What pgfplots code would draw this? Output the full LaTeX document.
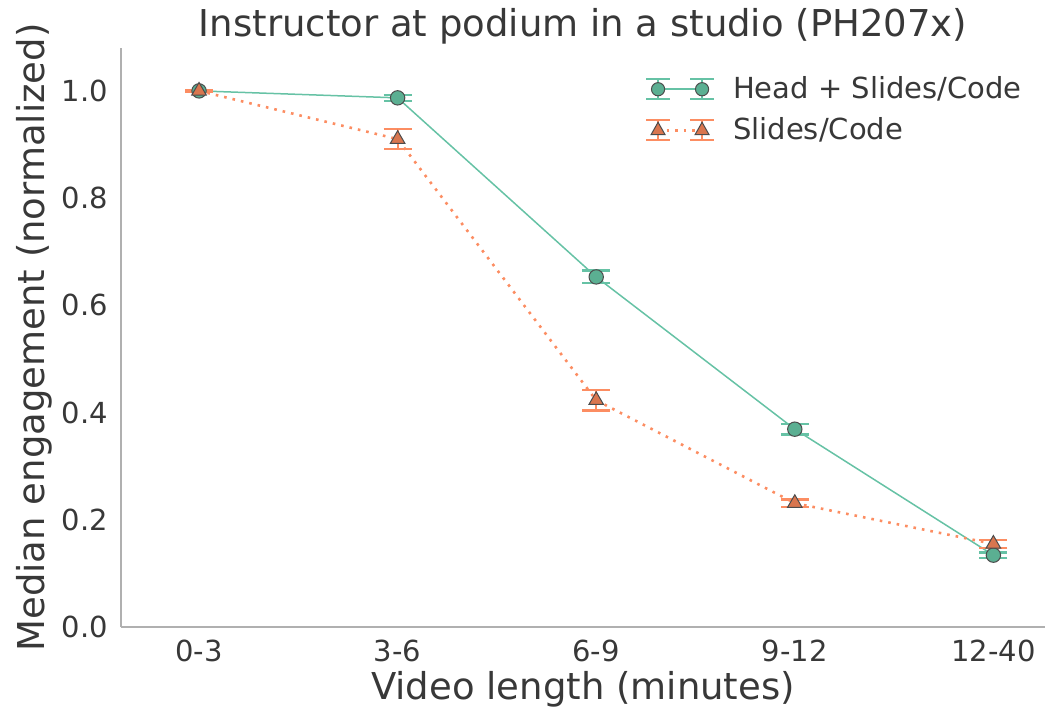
\documentclass[border=0pt]{standalone}
\usepackage{fontspec}
\setmainfont{DejaVu Sans}
\usepackage{pgfplots}
\pgfplotsset{compat=1.18}
\definecolor{tgreen}{HTML}{66C2A5}
\definecolor{tgreenfill}{HTML}{5BAF92}
\definecolor{torange}{HTML}{FC8D62}
\definecolor{torangefill}{HTML}{D9764F}
\definecolor{txt}{HTML}{383838}
\definecolor{spine}{HTML}{B0B0B0}
\begin{document}
\begin{tikzpicture}
\begin{axis}[
  scale only axis,
  width=462pt, height=289.5pt,
  xmin=-0.393, xmax=4.26,
  ymin=0, ymax=1.08,
  axis x line*=bottom, axis y line*=left,
  axis line style={spine, line width=1.1pt, -},
  xtick={0,1,2,3,4},
  xticklabels={0-3,3-6,6-9,9-12,12-40},
  ytick={0,0.2,0.4,0.6,0.8,1.0},
  yticklabel style={/pgf/number format/fixed, /pgf/number format/fixed zerofill, /pgf/number format/precision=1},
  /pgf/number format/assume math mode=true,
  major tick length=0pt,
  tick label style={font=\fontsize{14.5}{17}\selectfont, text=txt},
  xticklabel style={yshift=-3pt},
  yticklabel style={xshift=-3pt},
  title={Instructor at podium in a studio (PH207x)},
  title style={font=\fontsize{18.5}{22}\selectfont, text=txt, yshift=-7.5pt},
  xlabel={Video length (minutes)},
  ylabel={Median engagement (normalized)},
  label style={font=\fontsize{18.5}{22}\selectfont, text=txt},
  xlabel style={yshift=2pt},
  ylabel style={yshift=-2pt},
  clip=false,
]
\addplot[tgreen, line width=0.75pt,
  mark=*, mark size=3.6pt, mark options={fill=tgreenfill, draw=black!70, line width=0.5pt, solid},
  error bars/.cd, y dir=both, y explicit,
  error bar style={tgreen, line width=1.1pt},
  error mark options={rotate=90, mark size=7pt, line width=1.1pt, tgreen},
  ]
  coordinates {
  (0,1.000) +- (0,0.002)
  (1,0.987) +- (0,0.006)
  (2,0.653) +- (0,0.012)
  (3,0.369) +- (0,0.010)
  (4,0.134) +- (0,0.005)
  };
\addplot[torange, line width=1.3pt, dash pattern=on 1.3pt off 3pt,
  mark=triangle*, mark size=4.2pt, mark options={fill=torangefill, draw=black!70, line width=0.5pt, solid},
  error bars/.cd, y dir=both, y explicit,
  error bar style={torange, line width=1.1pt, solid},
  error mark options={rotate=90, mark size=7pt, line width=1.1pt, torange, solid},
  ]
  coordinates {
  (0,1.000) +- (0,0.002)
  (1,0.910) +- (0,0.019)
  (2,0.423) +- (0,0.019)
  (3,0.231) +- (0,0.007)
  (4,0.155) +- (0,0.007)
  };
\end{axis}
\begin{axis}[
  scale only axis,
  width=462pt, height=289.5pt,
  xmin=0, xmax=1, ymin=0, ymax=1,
  hide axis,
  legend style={draw=none, fill=none, at={(0.5666,0.958)}, anchor=north west,
    font=\fontsize{14.5}{17}\selectfont, text=txt, row sep=4pt, column sep=7pt,
    inner sep=0pt},
  legend cell align=left,
]
\addlegendimage{legend image code/.code={
  \draw[tgreen, line width=0.75pt] (0pt,0pt) -- (22pt,0pt);
  \foreach \x in {0pt,22pt}{
    \draw[tgreen, line width=1.1pt] (\x,-5pt) -- (\x,5pt);
    \draw[tgreen, line width=1.1pt] ([xshift=-6pt]\x,-5pt) -- ([xshift=6pt]\x,-5pt);
    \draw[tgreen, line width=1.1pt] ([xshift=-6pt]\x,5pt) -- ([xshift=6pt]\x,5pt);
    \draw[fill=tgreenfill, draw=black!70, line width=0.5pt] (\x,0pt) circle (3.3pt);
  }
}}
\addlegendentry{Head + Slides/Code}
\addlegendimage{legend image code/.code={
  \draw[torange, line width=1.3pt, dash pattern=on 1.3pt off 3pt] (0pt,0pt) -- (22pt,0pt);
  \foreach \x in {0pt,22pt}{
    \draw[torange, line width=1.1pt] (\x,-5pt) -- (\x,5pt);
    \draw[torange, line width=1.1pt] ([xshift=-6pt]\x,-5pt) -- ([xshift=6pt]\x,-5pt);
    \draw[torange, line width=1.1pt] ([xshift=-6pt]\x,5pt) -- ([xshift=6pt]\x,5pt);
    \draw[fill=torangefill, draw=black!70, line width=0.5pt] ([yshift=4pt]\x,0pt) -- ([xshift=3.5pt,yshift=-2.2pt]\x,0pt) -- ([xshift=-3.5pt,yshift=-2.2pt]\x,0pt) -- cycle;
  }
}}
\addlegendentry{Slides/Code}
\end{axis}
\path (current axis.south west) ++(-60.5pt,-42.5pt) rectangle ++(531.5pt,356pt);
\end{tikzpicture}
\end{document}
